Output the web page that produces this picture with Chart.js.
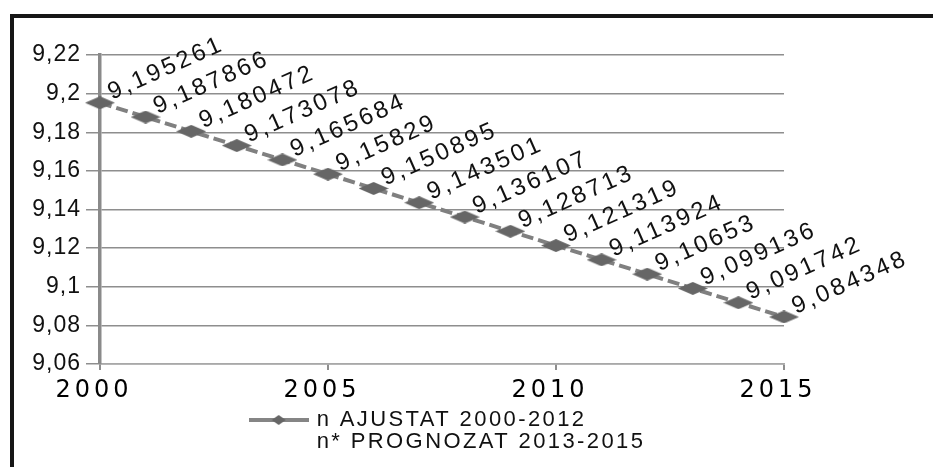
<!DOCTYPE html>
<html><head><meta charset="utf-8">
<script src="https://cdn.jsdelivr.net/npm/chart.js@4/dist/chart.umd.min.js"></script>
<style>
html,body{margin:0;padding:0;background:#fff;overflow:hidden;}
#wrap{position:relative;width:933px;height:467px;overflow:hidden;}
#frame{position:absolute;left:10px;top:14px;width:940px;height:470px;border-top:4px solid #161616;border-left:4px solid #161616;pointer-events:none;}
canvas{position:absolute;left:0;top:0;}
</style></head><body>
<div id="wrap"><canvas id="c" width="933" height="467"></canvas><div id="frame"></div></div>
<script>
const years = [2000, 2001, 2002, 2003, 2004, 2005, 2006, 2007, 2008, 2009, 2010, 2011, 2012, 2013, 2014, 2015];
const values = [9.195261, 9.187866, 9.180472, 9.173078, 9.165684, 9.15829, 9.150895, 9.143501, 9.136107, 9.128713, 9.121319, 9.113924, 9.10653, 9.099136, 9.091742, 9.084348];
const seriesLabel = ['n AJUSTAT 2000-2012', 'n* PROGNOZAT 2013-2015'];
const xTicks = [2000, 2005, 2010, 2015];
const yTicks = [9.06, 9.08, 9.1, 9.12, 9.14, 9.16, 9.18, 9.2, 9.22];

const valueText = values.map(v => String(v).replace('.', ','));

// diamond marker image
const diamond = document.createElement('canvas');
diamond.width = 30; diamond.height = 13;
(function(){ const c = diamond.getContext('2d'); c.fillStyle = '#666666'; c.beginPath(); c.moveTo(15,0); c.lineTo(30,6.5); c.lineTo(15,13); c.lineTo(0,6.5); c.closePath(); c.fill(); })();
// legend marker image: line + small diamond
const legendMark = document.createElement('canvas');
legendMark.width = 60; legendMark.height = 10;
(function(){ const c = legendMark.getContext('2d'); c.strokeStyle = '#858585'; c.lineWidth = 4; c.beginPath(); c.moveTo(0,5); c.lineTo(60,5); c.stroke(); c.fillStyle = '#666666'; c.beginPath(); c.moveTo(30,0); c.lineTo(37,5); c.lineTo(30,10); c.lineTo(23,5); c.closePath(); c.fill(); })();

function patch(obj, m, sp, after) {
  if (!obj || obj['_p_' + m]) return;
  const orig = obj[m];
  obj['_p_' + m] = true;
  obj[m] = function(...a) {
    const c = this.ctx; const prev = c.letterSpacing;
    c.letterSpacing = sp;
    try { return (after ? after.call(this, orig, a) : orig.apply(this, a)); } finally { c.letterSpacing = prev; }
  };
}
// legend fit: measure multi-line labels by their longest line, add height for extra lines
function legendFit(orig, a) {
  const items = this.legendItems || [];
  const saved = items.map(it => it.text);
  let extra = 0;
  items.forEach(it => {
    if (Array.isArray(it.text)) {
      extra = Math.max(extra, it.text.length - 1);
      it.text = it.text.reduce((p, q) => (q.length > p.length ? q : p));
    }
  });
  const r = orig.apply(this, a);
  items.forEach((it, i) => { it.text = saved[i]; });
  const lh = Chart.helpers.toFont(this.options.labels.font).lineHeight;
  this.height += extra * lh;
  if (this.lineWidths) this.lineWidths[0] -= 13;
  return r;
}
const spacingPlugin = {
  id: 'spacing',
  beforeLayout(chart) {
    patch(chart.legend, 'fit', '2.4px', legendFit);
    patch(chart.legend, 'draw', '2.4px');
    patch(chart.scales.x, 'drawLabels', '4px');
    patch(chart.scales.y, 'drawLabels', '1px');
  }
};
const labelPlugin = {
  id: 'vlabels',
  afterDatasetsDraw(chart) {
    const meta = chart.getDatasetMeta(0);
    const ctx = chart.ctx;
    ctx.save();
    ctx.font = '24px "Liberation Sans", Arial, sans-serif';
    ctx.fillStyle = '#111';
    ctx.letterSpacing = '3px';
    ctx.textAlign = 'left';
    ctx.textBaseline = 'alphabetic';
    meta.data.forEach((pt, i) => {
      ctx.save();
      ctx.translate(pt.x + 12, pt.y - 3);
      ctx.rotate(-24 * Math.PI / 180);
      ctx.fillText(valueText[i], 0, 0);
      ctx.restore();
    });
    ctx.restore();
  }
};

new Chart(document.getElementById('c'), {
  type: 'line',
  data: {
    datasets: [{
      label: seriesLabel,
      data: years.map((x, i) => ({x: x, y: values[i]})),
      borderColor: '#808080',
      borderWidth: 4,
      borderDash: [12, 5],
      pointStyle: diamond,
      pointRadius: 6,
      fill: false,
      tension: 0,
      clip: false
    }]
  },
  options: {
    responsive: false,
    devicePixelRatio: 1,
    animation: false,
    events: [],
    layout: {padding: {left: 0, right: 149, top: 55, bottom: 4}},
    scales: {
      x: {
        type: 'linear', min: 2000, max: 2015,
        afterBuildTicks: s => { s.ticks = xTicks.map(v => ({value: v})); },
        afterFit: s => { s.height = 39; },
        ticks: {
          callback: v => String(v),
          font: {family: '"DejaVu Sans"', size: 24},
          color: '#000', padding: 6, labelOffset: -6, maxRotation: 0, autoSkip: false
        },
        grid: {display: true, drawOnChartArea: false, drawTicks: true, tickLength: 6, color: '#8e8e8e', lineWidth: 2},
        border: {display: true, color: '#a8a8a8', width: 1.5}
      },
      y: {
        min: 9.06, max: 9.22,
        afterBuildTicks: s => { s.ticks = yTicks.map(v => ({value: v})); },
        afterFit: s => { s.width = 100; },
        ticks: {
          callback: v => Number(v.toFixed(2)).toString().replace('.', ','),
          font: {family: '"Liberation Sans"', size: 23},
          color: '#111', padding: 5, autoSkip: false
        },
        grid: {color: '#8e8e8e', lineWidth: 1.5, tickLength: 14, drawTicks: true},
        border: {display: true, color: '#8a8a8a', width: 3.5}
      }
    },
    plugins: {
      tooltip: {enabled: false},
      title: {display: false},
      legend: {
        display: true, position: 'bottom', fullSize: false,
        labels: {
          usePointStyle: true, pointStyle: legendMark, pointStyleWidth: 54,
          font: {family: '"Liberation Sans"', size: 22, lineHeight: 1.0},
          color: '#111', padding: 6
        }
      }
    }
  },
  plugins: [spacingPlugin, labelPlugin]
});
</script>
</body></html>
